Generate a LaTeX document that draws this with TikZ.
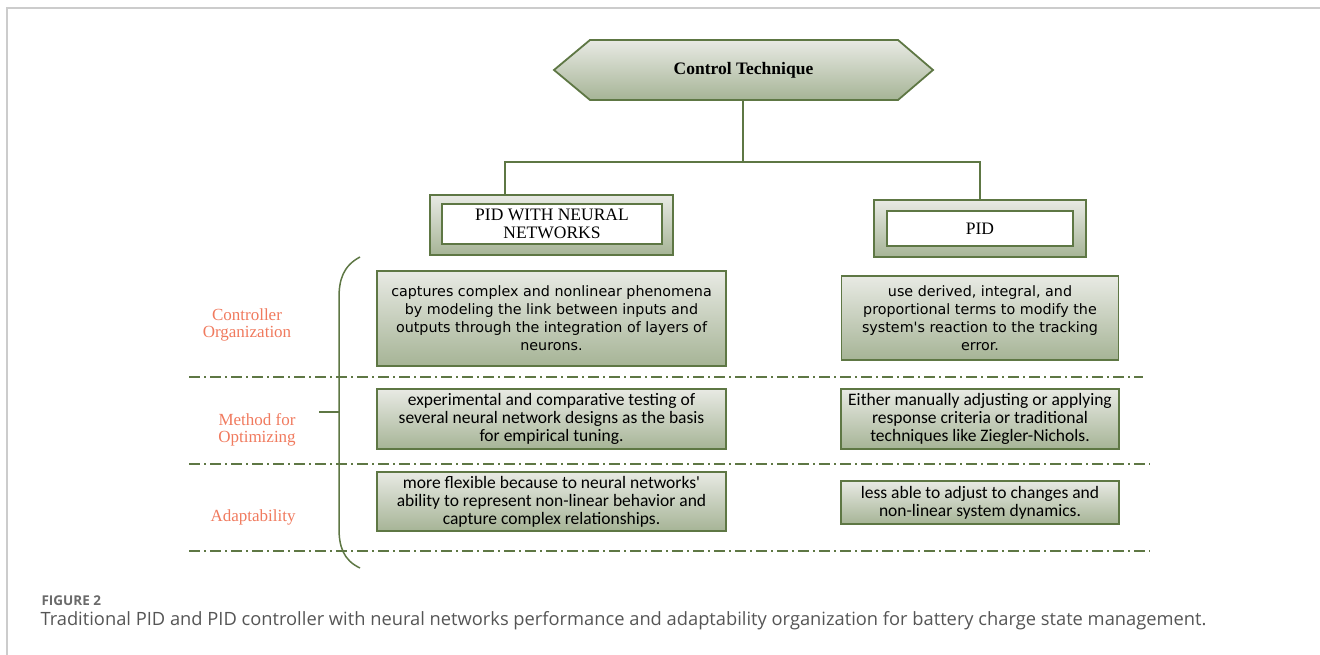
\documentclass[tikz,border=0pt]{standalone}
\usepackage{fontspec}
\setmainfont{Liberation Serif}
\newfontfamily\boxwide{DejaVu Sans}
\newfontfamily\boxnarrow{Carlito}
\newfontfamily\capfont{Open Sans}
\definecolor{olive}{HTML}{5E7744}
\definecolor{shtop}{HTML}{E8EAE4}
\definecolor{shbot}{HTML}{A6B496}
\definecolor{lblred}{HTML}{F07A5E}
\definecolor{framegray}{HTML}{CCCCCC}
\definecolor{capgray}{HTML}{555555}
\definecolor{figgray}{HTML}{6A6A6A}
\begin{document}
\begin{tikzpicture}[x=1pt,y=-1pt,
  gbox/.style={draw=olive, line width=1.8pt, top color=shtop, bottom color=shbot, inner sep=0pt, align=center},
  wbox/.style={draw=olive, line width=1.8pt, fill=white, inner sep=0pt, align=center, font=\fontsize{17.5}{18}\selectfont},
  conn/.style={draw=olive, line width=1.6pt},
  sep/.style={draw=olive, line width=1.4pt, dash pattern=on 11pt off 4pt on 2pt off 4pt},
  lbl/.style={text=lblred, align=center, font=\fontsize{17}{16.5}\selectfont},
  wtxt/.style={font=\boxwide\fontsize{14.3}{18}\selectfont},
  ntxt/.style={font=\boxnarrow\fontsize{17.5}{18}\selectfont}
]
\useasboundingbox (0,0) rectangle (1320,655);
% frame
\draw[framegray, line width=1.2pt] (7,655) -- (7,8) -- (1320,8);
% hexagon
\path[draw=olive, line width=1.8pt, top color=shtop, bottom color=shbot]
  (554,70) -- (590,40) -- (898,40) -- (933,70) -- (898,100) -- (590,100) -- cycle;
\node[font=\bfseries\fontsize{17.5}{18}\selectfont] (hex) at (743.5,70) {Control Technique};
\coordinate (hexb) at (743,100);
\coordinate (j) at (743,162);
% PID with NN
\node[gbox, minimum width=243pt, minimum height=60pt] (pidnn) at (551.5,225) {};
\node[wbox, minimum width=220pt, minimum height=40pt] (pidnnin) at (552,224) {PID WITH NEURAL\\NETWORKS};
\node[gbox, minimum width=212pt, minimum height=57pt] (pid) at (980,228.5) {};
\node[wbox, minimum width=186pt, minimum height=35pt] (pidin) at (980,228.5) {PID};
\coordinate (lt) at (505,195);
\draw[conn] (hexb) -- (j);
\draw[conn] (j) -| (lt);
\draw[conn] (j) -| (pid.north);
% separators
\draw[sep] (189,377) -- (1143,377);
\draw[sep] (189,464) -- (1150,464);
\draw[sep] (189,551) -- (1150,551);
% brace
\draw[conn, line width=1.5pt] (360,257) .. controls (343,266) and (339,280) .. (339,298) -- (339,528) .. controls (339,546) and (343,560) .. (360,568);
\coordinate (bt) at (339,412);
\coordinate (bl) at (319,412);
\draw[conn, line width=1.8pt] (bl) -- (bt);
% row labels
\node[lbl] (r1) at (247,325) {Controller\\Organization};
\node[lbl] (r2) at (257,430) {Method for\\Optimizing};
\node[lbl] (r3) at (253,517) {Adaptability};
% content boxes
\node[gbox, wtxt, minimum width=349pt, minimum height=95pt] (l1) at (551.5,318.5)
  {captures complex and nonlinear phenomena\\by modeling the link between inputs and\\outputs through the integration of layers of\\neurons.};
\node[gbox, wtxt, minimum width=277pt, minimum height=84pt] (rr1) at (980,318)
  {use derived, integral, and\\proportional terms to modify the\\system's reaction to the tracking\\error.};
\node[gbox, ntxt, minimum width=349pt, minimum height=60pt] (l2) at (551.5,419)
  {experimental and comparative testing of\\several neural network designs as the basis\\for empirical tuning.};
\node[gbox, ntxt, minimum width=278pt, minimum height=60pt] (rr2) at (980,419)
  {Either manually adjusting or applying\\response criteria or traditional\\techniques like Ziegler-Nichols.};
\node[gbox, ntxt, minimum width=349pt, minimum height=59pt] (l3) at (551.5,501.5)
  {more flexible because to neural networks'\\ability to represent non-linear behavior and\\capture complex relationships.};
\node[gbox, ntxt, minimum width=278pt, minimum height=43pt] (rr3) at (980,502.5)
  {less able to adjust to changes and\\non-linear system dynamics.};
% caption
\node[anchor=west, text=figgray, font=\capfont\bfseries\fontsize{13.5}{15}\selectfont] (fig) at (38,601) {FIGURE 2};
\node[anchor=west, text=capgray, font=\capfont\fontsize{18.3}{20}\selectfont] (cap) at (37,621)
  {Traditional PID and PID controller with neural networks performance and adaptability organization for battery charge state management.};
\end{tikzpicture}
\end{document}
